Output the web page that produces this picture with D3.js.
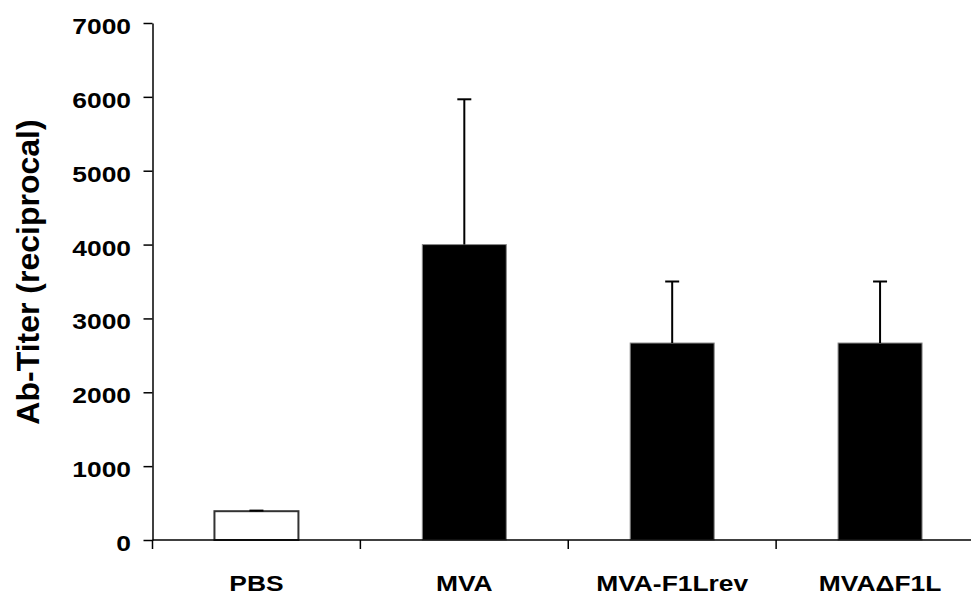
<!DOCTYPE html>
<html>
<head>
<meta charset="utf-8">
<script src="https://cdn.jsdelivr.net/npm/d3@7"></script>
<style>
  html, body { margin: 0; padding: 0; background: #fff; }
  svg { display: block; }
  text { font-family: "Liberation Sans", Arial, Helvetica, sans-serif; font-weight: bold; fill: #000; }
</style>
</head>
<body>
<svg id="chart" width="971" height="597"></svg>
<script>
// Antibody titers per group (mean and standard deviation)
const categories = ["PBS", "MVA", "MVA-F1Lrev", "MVA\u0394F1L"];
const means = [390, 4000, 2667, 2667];
const errors = [8, 1967, 833, 833];
const yTicks = [0, 1000, 2000, 3000, 4000, 5000, 6000, 7000];
const yTitle = "Ab-Titer (reciprocal)";

const svg = d3.select("#chart");
const plotLeft = 152.5, plotRight = 984, plotTop = 23, plotBottom = 540;
const textStretch = 1.2;

const x = d3.scaleBand().domain(categories).range([plotLeft, plotRight]).padding(0);
const y = d3.scaleLinear().domain([0, 7000]).range([plotBottom, plotTop]);
const barFrac = 0.404;

// Bars
const barW = x.bandwidth() * barFrac;
svg.append("g").selectAll("rect")
  .data(categories)
  .join("rect")
  .attr("x", c => x(c) + (x.bandwidth() - barW) / 2)
  .attr("y", (c, i) => y(means[i]))
  .attr("width", barW)
  .attr("height", (c, i) => y(0) - y(means[i]))
  .attr("fill", (c, i) => i === 0 ? "#fff" : "#000")
  .attr("stroke", (c, i) => i === 0 ? "#333" : "#888")
  .attr("stroke-width", (c, i) => i === 0 ? 2 : 1);

// Upper error bars
const eb = svg.append("g").attr("stroke", "#000").attr("stroke-width", 2);
categories.forEach((c, i) => {
  const cx = x(c) + x.bandwidth() / 2;
  eb.append("line")
    .attr("x1", cx).attr("x2", cx)
    .attr("y1", y(means[i])).attr("y2", y(means[i] + errors[i]));
  eb.append("line")
    .attr("x1", cx - 7).attr("x2", cx + 7)
    .attr("y1", y(means[i] + errors[i])).attr("y2", y(means[i] + errors[i]));
});

// Y axis
const yAxis = svg.append("g")
  .attr("transform", `translate(${plotLeft},0)`)
  .call(d3.axisLeft(y).tickValues(yTicks).tickSize(9).tickSizeOuter(0).tickFormat(d3.format("d")));
yAxis.select(".domain").attr("stroke", "#000").attr("stroke-width", 1.5);
yAxis.selectAll(".tick line").attr("stroke", "#000").attr("stroke-width", 1.5);
yAxis.selectAll(".tick text")
  .attr("x", null).attr("dy", null)
  .attr("font-size", 22)
  .attr("font-family", "Liberation Sans, Arial, sans-serif")
  .attr("font-weight", "bold")
  .attr("text-anchor", "end")
  .attr("transform", `translate(-21.5,10.5) scale(${textStretch},1)`);

// X axis: baseline with ticks at category boundaries
const xg = svg.append("g");
xg.append("line")
  .attr("x1", plotLeft).attr("x2", plotRight)
  .attr("y1", plotBottom).attr("y2", plotBottom)
  .attr("stroke", "#000").attr("stroke-width", 1.5);
const bounds = categories.map(c => x(c)).concat([plotRight]);
xg.selectAll("line.tk")
  .data(bounds)
  .join("line")
  .attr("class", "tk")
  .attr("x1", d => d).attr("x2", d => d)
  .attr("y1", plotBottom).attr("y2", plotBottom + 9)
  .attr("stroke", "#000").attr("stroke-width", 1.5);
xg.selectAll("text")
  .data(categories)
  .join("text")
  .attr("text-anchor", "middle")
  .attr("font-size", 22)
  .attr("transform", c => `translate(${x(c) + x.bandwidth() / 2},591) scale(${textStretch},1)`)
  .text(c => c);

// Y title
svg.append("text")
  .attr("text-anchor", "middle")
  .attr("font-size", 32)
  .attr("transform", "translate(39,272) rotate(-90)")
  .text(yTitle);
</script>
</body>
</html>
